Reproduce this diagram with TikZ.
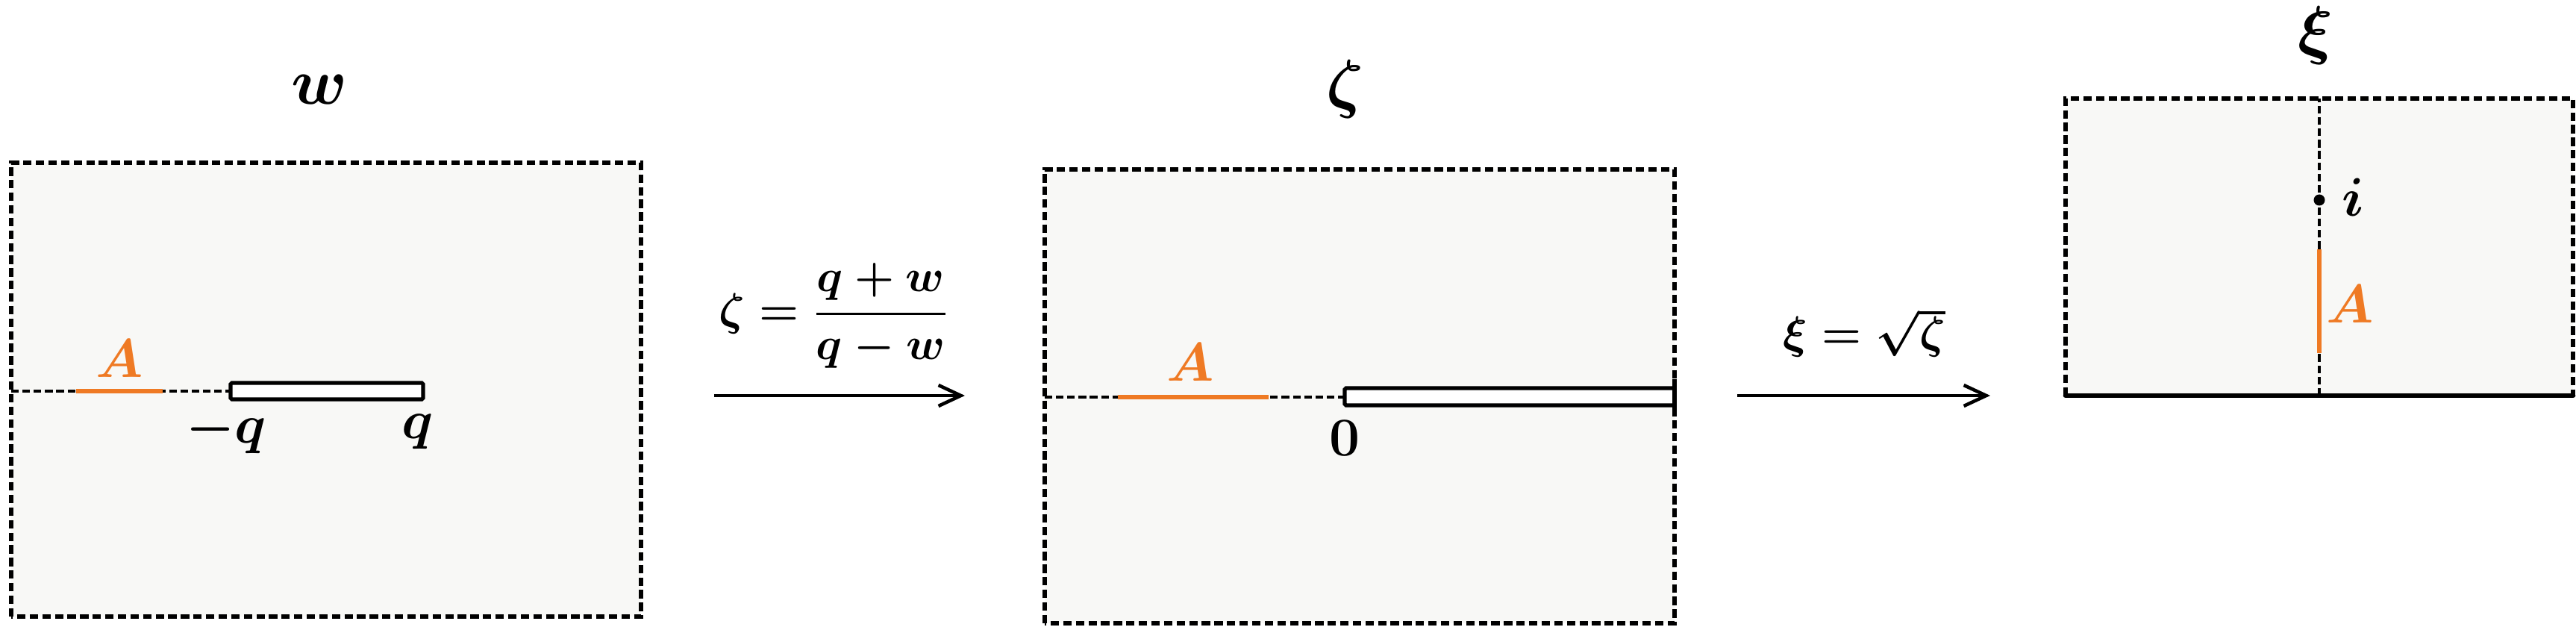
\documentclass[tikz,border=0pt]{standalone}
\usepackage{amsmath,amssymb}
\usepackage{xcolor}
\usepackage{tikz}
\usetikzlibrary{arrows.meta,positioning}
\definecolor{plane}{HTML}{F8F8F6}
\definecolor{arc}{HTML}{EF7A24}

\begin{document}
\begin{tikzpicture}[>={Straight Barb[length=3mm,width=2.8mm]}]
\tikzset{
  pbox/.style={draw,dash pattern=on 3.2pt off 1.6pt,line width=1.6pt,fill=plane},
  axis/.style={dash pattern=on 2.9pt off 1.4pt,line width=1.3pt},
  cut/.style ={draw,line width=1.5pt,fill=white,rounded corners=0.5pt},
  seg/.style ={arc,line width=1.8pt},
  lab/.style ={font=\fontsize{20}{24}\selectfont\boldmath,inner sep=0pt},
  ttl/.style ={font=\fontsize{26}{30}\selectfont\boldmath,inner sep=0pt},
  map/.style ={->,line width=1.3pt}
}
\useasboundingbox (0,0) rectangle (34.52,8.40);

% w plane
\draw[pbox] (0.15,0.14) rectangle (8.59,6.22);
\node[ttl] (wlab) at (4.28,7.20) {$w$};
\draw[axis] (0.15,3.16) -- (3.09,3.16);
\draw[seg] (1.02,3.16) -- (2.18,3.16);
\node[lab,text=arc] (wA) at (1.60,3.60) {$A$};
\draw[cut] (3.09,3.05) rectangle (5.67,3.27);
\node[lab] (mq) at (3.03,2.62) {$-q$};
\node[lab] (pq) at (5.60,2.62) {$q$};

% first map
\coordinate (m1a) at (9.57,3.10);
\coordinate (m1b) at (12.93,3.10);
\draw[map] (m1a) -- (m1b);
\node[lab,font=\fontsize{19}{23}\selectfont\boldmath] (f1) at (11.17,4.17) {$\zeta=\dfrac{q+w}{q-w}$};

% zeta plane
\draw[pbox] (14.00,0.05) rectangle (22.44,6.13);
\node[ttl] (zlab) at (18.02,7.20) {$\zeta$};
\draw[axis] (14.00,3.08) -- (18.02,3.08);
\draw[seg] (14.98,3.08) -- (17.00,3.08);
\node[lab,text=arc] (zA) at (15.95,3.55) {$A$};
\draw[cut] (18.02,2.97) rectangle (22.44,3.20);
\draw[line width=1.8pt] (22.44,2.94) -- (22.44,3.32);
\node[lab] (zero) at (18.02,2.53) {$0$};

% second map
\coordinate (m2a) at (23.28,3.10);
\coordinate (m2b) at (26.67,3.10);
\draw[map] (m2a) -- (m2b);
\node[lab,font=\fontsize{19}{23}\selectfont\boldmath] (f2) at (24.98,3.94) {$\xi=\sqrt{\zeta}$};

% xi plane
\fill[plane] (27.68,3.10) rectangle (34.48,7.08);
\draw[pbox,fill=none] (27.68,3.10) -- (27.68,7.08) -- (34.48,7.08) -- (34.48,3.10);
\draw[line width=1.9pt,line cap=round] (27.68,3.10) -- (34.48,3.10);
\node[ttl] (xlab) at (31.03,7.92) {$\xi$};
\draw[axis] (31.08,3.10) -- (31.08,7.08);
\draw[seg] (31.08,3.67) -- (31.08,5.06);
\node[lab,text=arc] (xA) at (31.49,4.33) {$A$};
\fill (31.08,5.72) circle (0.075);
\node[lab] (ipt) at (31.53,5.76) {$i$};
\end{tikzpicture}
\end{document}
